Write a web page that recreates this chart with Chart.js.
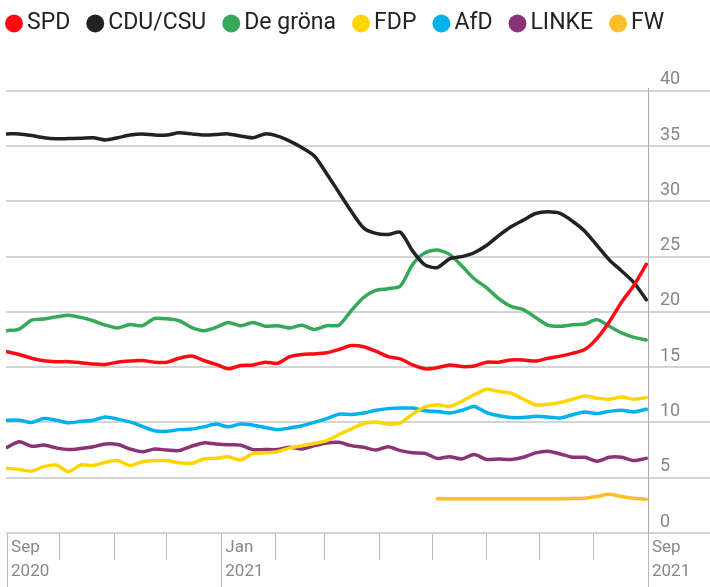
<!DOCTYPE html>
<html>
<head>
<meta charset="utf-8">
<script src="https://cdn.jsdelivr.net/npm/chart.js@4.4.1/dist/chart.umd.min.js"></script>
<style>
  html, body { margin: 0; padding: 0; background: #fff; }
  #wrap { width: 710px; height: 587px; position: relative; }
</style>
</head>
<body>
<div id="wrap"><canvas id="polls"></canvas></div>
<script>
// days since 1 Sep 2020, one poll average per week
const days = [0, 7, 14, 21, 28, 35, 42, 49, 56, 63, 70, 77, 84, 91, 98, 105, 112, 119, 126, 133,
  140, 147, 154, 161, 168, 175, 182, 189, 196, 203, 210, 217, 224, 231, 238, 245, 252, 259, 266,
  273, 280, 287, 294, 301, 308, 315, 322, 329, 336, 343, 350, 357, 364];

const monthStarts = [0, 30, 61, 91, 122, 153, 181, 212, 242, 273, 303, 334, 365];
const labelDays = [0, 122, 365];
const labelTexts = [["Sep", "2020"], ["Jan", "2021"], ["Sep", "2021"]];
const yTicks = [0, 5, 10, 15, 20, 25, 30, 35, 40];

const parties = ["SPD", "CDU/CSU", "De gröna", "FDP", "AfD", "LINKE", "FW"];
const colors = ["#ff0a14", "#222222", "#36a85a", "#ffd500", "#00b2ec", "#8a3475", "#fcbf2a"];

const spd = [16.4, 16.15, 15.8, 15.58, 15.5, 15.5, 15.4, 15.28, 15.25, 15.45, 15.55, 15.6, 15.45,
  15.45, 15.8, 16.0, 15.6, 15.25, 14.85, 15.15, 15.2, 15.45, 15.35, 15.95, 16.15, 16.2, 16.3,
  16.6, 16.95, 16.85, 16.45, 15.95, 15.75, 15.2, 14.85, 14.95, 15.2, 15.05, 15.1, 15.45,
  15.45, 15.65, 15.65, 15.55, 15.8, 16.0, 16.25, 16.6, 17.6, 19.1, 20.9, 22.4, 24.3];
const cdu = [36.1, 36.1, 35.95, 35.75, 35.65, 35.68, 35.7, 35.75, 35.55, 35.75, 36.0, 36.1, 36.0,
  36.0, 36.2, 36.1, 36.0, 36.05, 36.1, 35.9, 35.75, 36.1, 35.9, 35.45, 34.85, 34.1, 32.5,
  30.8, 29.1, 27.6, 27.1, 27.0, 27.2, 25.5, 24.25, 24.0, 24.8, 25.0, 25.35, 26.0,
  26.9, 27.7, 28.3, 28.9, 29.05, 28.9, 28.2, 27.3, 26.0, 24.7, 23.7, 22.65, 21.1];
const gruene = [18.3, 18.45, 19.25, 19.35, 19.55, 19.7, 19.5, 19.2, 18.8, 18.55, 18.85, 18.75, 19.4,
  19.37, 19.2, 18.6, 18.3, 18.6, 19.05, 18.75, 19.05, 18.7, 18.75, 18.55, 18.8, 18.4, 18.75,
  18.8, 20.1, 21.3, 21.95, 22.1, 22.35, 24.3, 25.35, 25.6, 25.2, 24.15, 23.0, 22.2,
  21.2, 20.5, 20.2, 19.5, 18.8, 18.7, 18.83, 18.9, 19.3, 18.7, 18.1, 17.7, 17.47];
const fdp = [5.85, 5.75, 5.6, 6.0, 6.15, 5.55, 6.15, 6.1, 6.4, 6.55, 6.1, 6.45, 6.55,
  6.55, 6.35, 6.3, 6.7, 6.75, 6.9, 6.6, 7.2, 7.25, 7.35, 7.7, 7.9, 8.1, 8.35,
  8.9, 9.4, 9.9, 10.05, 9.85, 9.95, 10.75, 11.4, 11.6, 11.45, 11.9, 12.5, 13.0,
  12.8, 12.65, 12.1, 11.6, 11.65, 11.8, 12.1, 12.4, 12.2, 12.1, 12.3, 12.1, 12.25];
const afd = [10.2, 10.2, 10.0, 10.35, 10.2, 9.97, 10.1, 10.2, 10.5, 10.3, 10.05, 9.65, 9.25,
  9.2, 9.35, 9.4, 9.6, 9.85, 9.6, 9.85, 9.75, 9.55, 9.35, 9.5, 9.7, 10.0, 10.35,
  10.75, 10.72, 10.85, 11.1, 11.25, 11.3, 11.3, 11.05, 11.0, 10.85, 11.1, 11.45, 10.9,
  10.6, 10.45, 10.45, 10.55, 10.5, 10.4, 10.7, 10.95, 10.8, 11.0, 11.1, 10.95, 11.2];
const linke = [7.75, 8.25, 7.85, 7.95, 7.7, 7.55, 7.65, 7.8, 8.05, 8.0, 7.6, 7.35, 7.6,
  7.5, 7.45, 7.85, 8.15, 8.05, 7.98, 7.95, 7.55, 7.55, 7.55, 7.75, 7.6, 7.9, 8.15,
  8.2, 7.9, 7.75, 7.5, 7.8, 7.45, 7.25, 7.2, 6.75, 6.9, 6.7, 7.1, 6.65,
  6.7, 6.65, 6.85, 7.25, 7.4, 7.15, 6.85, 6.85, 6.5, 6.85, 6.85, 6.55, 6.75];
const fw = [null, null, null, null, null, null, null, null, null, null, null, null, null,
  null, null, null, null, null, null, null, null, null, null, null, null, null, null,
  null, null, null, null, null, null, null, null, 3.1, 3.1, 3.1, 3.1, 3.1,
  3.1, 3.1, 3.1, 3.1, 3.1, 3.1, 3.12, 3.15, 3.3, 3.5, 3.3, 3.15, 3.05];

const series = [spd, cdu, gruene, fdp, afd, linke, fw];

const datasets = parties.map((name, i) => ({
  label: name,
  data: days.map((d, j) => ({ x: d, y: series[i][j] })),
  borderColor: colors[i],
  backgroundColor: colors[i],
  xAxisID: "x",
  yAxisID: "y"
}));

const font = "Roboto";

new Chart(document.getElementById("polls"), {
  type: "line",
  data: { datasets },
  options: {
    responsive: true,
    maintainAspectRatio: false,
    animation: false,
    layout: { padding: { left: -11, top: -11.5, right: 0, bottom: 0 } },
    elements: {
      point: { radius: 0, hoverRadius: 0 },
      line: { borderWidth: 3.5, tension: 0.25, borderCapStyle: "round", borderJoinStyle: "round" }
    },
    plugins: {
      tooltip: { enabled: false },
      legend: {
        align: "start",
        labels: {
          usePointStyle: true,
          pointStyle: "circle",
          boxWidth: 3,
          boxHeight: 12.7,
          padding: 23.5,
          color: "#222",
          font: { family: font, size: 23 },
          generateLabels: chart =>
            Chart.defaults.plugins.legend.labels.generateLabels(chart).map(l => Object.assign(l, { lineWidth: 0 }))
        }
      }
    },
    scales: {
      x: {
        type: "linear",
        position: "bottom",
        min: -0.6,
        max: 365,
        afterBuildTicks: s => { s.ticks = monthStarts.map(v => ({ value: v })); },
        afterFit: s => { s.height = 54; },
        border: { display: false },
        grid: {
          drawOnChartArea: false,
          tickLength: 54,
          tickColor: "#bbb",
          tickWidth: 1,
          tickBorderDash: c => (c.tick && labelDays.includes(c.tick.value)) ? [] : [27, 40]
        },
        ticks: {
          autoSkip: false,
          maxRotation: 0,
          minRotation: 0,
          align: "start",
          padding: -51,
          labelOffset: 4,
          color: "#888",
          font: { family: font, size: 17, lineHeight: 24 / 17 },
          callback: v => {
            const i = labelDays.indexOf(v);
            return i < 0 ? "" : labelTexts[i];
          }
        }
      },
      y: {
        position: "right",
        min: 0,
        max: 40.25,
        afterBuildTicks: s => { s.ticks = yTicks.map(v => ({ value: v })); },
        afterFit: s => { s.width = 62; },
        grid: { color: "#d4d4d4", lineWidth: 2, tickLength: 62, tickColor: "#d4d4d4", tickWidth: 2 },
        border: { display: true, color: "#aaa", width: 1 },
        ticks: { padding: -50, labelOffset: -11, color: "#888", font: { family: font, size: 18 } }
      },
      xTop: {
        type: "linear",
        axis: "x",
        position: "top",
        grid: { display: false },
        border: { display: false },
        ticks: { display: false },
        afterFit: s => { s.height = 43; }
      },
      yLeft: {
        type: "linear",
        axis: "y",
        position: "left",
        grid: { display: false },
        border: { display: false },
        ticks: { display: false },
        afterFit: s => { s.width = 17; }
      }
    }
  }
});
</script>
</body>
</html>
